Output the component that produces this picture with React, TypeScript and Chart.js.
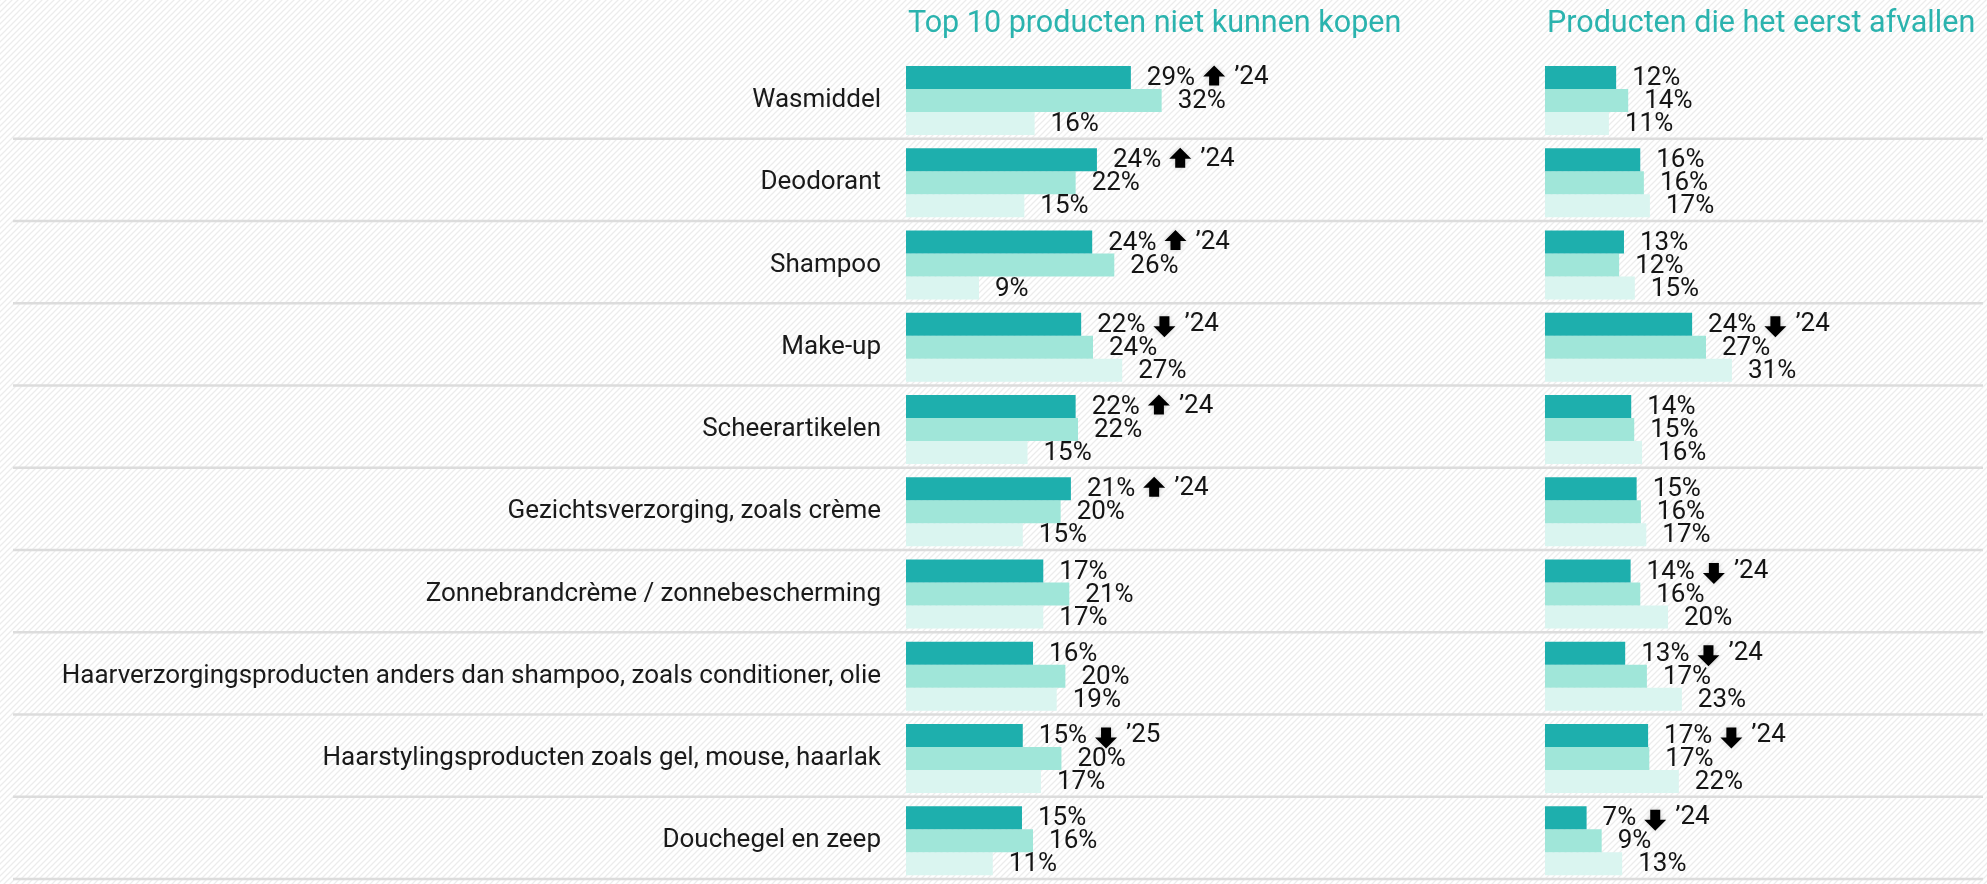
import React, { useEffect, useRef } from 'react';
import { Chart, registerables } from 'chart.js';

Chart.register(...registerables);

const FONT = 'Roboto, "Noto Sans", sans-serif';

const categories = [
  'Wasmiddel',
  'Deodorant',
  'Shampoo',
  'Make-up',
  'Scheerartikelen',
  'Gezichtsverzorging, zoals crème',
  'Zonnebrandcrème / zonnebescherming',
  'Haarverzorgingsproducten anders dan shampoo, zoals conditioner, olie',
  'Haarstylingsproducten zoals gel, mouse, haarlak',
  'Douchegel en zeep',
];

const seriesNames = ['2025', '2024', '2023'];

// Panel 1: Top 10 producten niet kunnen kopen (%)
const leftA = [28.5, 24.2, 23.6, 22.2, 21.5, 20.9, 17.4, 16.1, 14.8, 14.7];
const leftB = [32.4, 21.5, 26.4, 23.7, 21.8, 19.6, 20.7, 20.2, 19.7, 16.1];
const leftC = [16.3, 15.0, 9.25, 27.4, 15.4, 14.8, 17.4, 19.1, 17.1, 11.0];

// Panel 2: Producten die het eerst afvallen (%)
const rightA = [11.8, 15.8, 13.1, 24.4, 14.3, 15.2, 14.2, 13.3, 17.1, 6.9];
const rightB = [13.8, 16.4, 12.3, 26.7, 14.8, 15.9, 15.8, 16.9, 17.3, 9.4];
const rightC = [10.6, 17.4, 14.9, 31.0, 16.1, 16.8, 20.4, 22.7, 22.2, 12.8];

// Trend markers on the first series
const leftTrend = ['up', 'up', 'up', 'down', 'up', 'up', null, null, 'down', null];
const leftTrendLabel = ['’24', '’24', '’24', '’24', '’24', '’24', null, null, '’25', null];
const rightTrend = [null, null, null, 'down', null, null, 'down', 'down', 'down', 'down'];
const rightTrendLabel = [null, null, null, '’24', null, null, '’24', '’24', '’24', '’24'];

const panelTitles = ['Top 10 producten niet kunnen kopen', 'Producten die het eerst afvallen'];

const COLORS = ['#1eafad', '#a0e6d9', '#daf5f0'];
const TEAL_TITLE = '#2bb3ae';

export default function App() {
  const ref = useRef<HTMLCanvasElement>(null);

  useEffect(() => {
    document.body.style.margin = '0';
    const canvas = ref.current!;
    const ctx = canvas.getContext('2d')!;

    const tile = document.createElement('canvas');
    tile.width = 6;
    tile.height = 6;
    const tc = tile.getContext('2d')!;
    tc.fillStyle = '#ffffff';
    tc.fillRect(0, 0, 6, 6);
    tc.strokeStyle = 'rgba(0,0,0,0.075)';
    tc.lineWidth = 1.3;
    tc.beginPath();
    tc.moveTo(0, 6); tc.lineTo(6, 0);
    tc.moveTo(-1, 1); tc.lineTo(1, -1);
    tc.moveTo(5, 7); tc.lineTo(7, 5);
    tc.stroke();
    const pattern = ctx.createPattern(tile, 'repeat');

    const drawArrow = (c: CanvasRenderingContext2D, x0: number, yc: number, dir: string) => {
      c.save();
      c.shadowColor = 'rgba(0,0,0,0.18)';
      c.shadowBlur = 5;
      c.fillStyle = '#000';
      c.beginPath();
      if (dir === 'up') {
        const top = yc - 12;
        c.moveTo(x0 + 11, top);
        c.lineTo(x0 + 22, top + 11);
        c.lineTo(x0 + 16, top + 11);
        c.lineTo(x0 + 16, top + 20);
        c.lineTo(x0 + 6, top + 20);
        c.lineTo(x0 + 6, top + 11);
        c.lineTo(x0, top + 11);
      } else {
        const top = yc - 8;
        c.moveTo(x0 + 6, top);
        c.lineTo(x0 + 16, top);
        c.lineTo(x0 + 16, top + 10);
        c.lineTo(x0 + 22, top + 10);
        c.lineTo(x0 + 11, top + 21);
        c.lineTo(x0, top + 10);
        c.lineTo(x0 + 6, top + 10);
      }
      c.closePath();
      c.fill();
      c.restore();
    };

    const decor = {
      id: 'decor',
      beforeDraw(chart: any) {
        const c = chart.ctx as CanvasRenderingContext2D;
        c.save();
        c.fillStyle = pattern as any;
        c.fillRect(0, 0, chart.width, chart.height);
        const y = chart.scales.y;
        const pitch = y.getPixelForValue(1) - y.getPixelForValue(0);
        c.strokeStyle = '#dcdcdc';
        c.lineWidth = 2.5;
        for (let i = 0; i < categories.length; i++) {
          const yy = y.getPixelForValue(i) + pitch / 2 - 3;
          c.beginPath();
          c.moveTo(13, yy);
          c.lineTo(chart.chartArea.right, yy);
          c.stroke();
        }
        c.restore();
      },
      afterDatasetsDraw(chart: any) {
        const c = chart.ctx as CanvasRenderingContext2D;
        c.save();
        c.font = `400 26px ${FONT}`;
        c.fillStyle = '#151515';
        c.textBaseline = 'middle';
        c.textAlign = 'left';
        chart.data.datasets.forEach((ds: any, di: number) => {
          const meta = chart.getDatasetMeta(di);
          meta.data.forEach((bar: any, i: number) => {
            const txt = `${Math.round(ds.data[i])}%`;
            const tx = bar.x + 16;
            c.fillText(txt, tx, bar.y + 1);
            if (di === 0 || di === 3) {
              const trend = di === 0 ? leftTrend[i] : rightTrend[i];
              const tl = di === 0 ? leftTrendLabel[i] : rightTrendLabel[i];
              if (trend) {
                const w = c.measureText(txt).width;
                const ax = tx + w + 8;
                drawArrow(c, ax, bar.y, trend);
                if (tl) c.fillText(tl, ax + 22 + 9, bar.y);
              }
            }
          });
        });
        // titles
        c.font = `400 30.5px ${FONT}`;
        c.fillStyle = TEAL_TITLE;
        c.textBaseline = 'alphabetic';
        c.fillText(panelTitles[0], chart.scales.xL.getPixelForValue(0) + 2, 32);
        c.fillText(panelTitles[1], chart.scales.xR.getPixelForValue(0) + 2, 32);
        c.restore();
      },
    };

    const mk = (label: string, data: number[], axis: string, stack: string, color: string) => ({
      label,
      data,
      xAxisID: axis,
      stack,
      backgroundColor: color,
      borderWidth: 0,
      barPercentage: 1,
      categoryPercentage: 0.839,
    });

    const chart = new Chart(canvas, {
      type: 'bar',
      data: {
        labels: categories,
        datasets: [
          mk(seriesNames[0], leftA, 'xL', 's0', COLORS[0]),
          mk(seriesNames[1], leftB, 'xL', 's1', COLORS[1]),
          mk(seriesNames[2], leftC, 'xL', 's2', COLORS[2]),
          mk(seriesNames[0], rightA, 'xR', 's0', COLORS[0]),
          mk(seriesNames[1], rightB, 'xR', 's1', COLORS[1]),
          mk(seriesNames[2], rightC, 'xR', 's2', COLORS[2]),
        ],
      },
      options: {
        indexAxis: 'y',
        responsive: false,
        animation: false,
        layout: { padding: { top: 59.37, bottom: 2.03, right: 4, left: 0 } },
        plugins: {
          legend: { display: false },
          tooltip: { enabled: false },
          title: { display: false },
        },
        scales: {
          y: {
            type: 'category',
            position: 'left',
            grid: { display: false, drawTicks: false },
            border: { display: false },
            ticks: {
              font: { family: FONT, size: 26 },
              color: '#1a1a1a',
              padding: 25,
              autoSkip: false,
            },
            afterFit: (s: any) => {
              s.width = 906;
              s.paddingTop = 0;
              s.paddingBottom = 0;
            },
          },
          xL: {
            type: 'linear',
            axis: 'x',
            position: 'bottom',
            display: false,
            stacked: false,
            min: 0,
            max: 136.5,
          },
          xR: {
            type: 'linear',
            axis: 'x',
            position: 'bottom',
            display: false,
            stacked: false,
            min: -105.97,
            max: 72.64,
          },
        },
      } as any,
      plugins: [decor],
    });

    return () => chart.destroy();
  }, []);

  return (
    <div style={{ position: 'absolute', left: 0, top: 0, width: 1987, height: 884 }}>
      <canvas ref={ref} width={1987} height={884} style={{ display: 'block' }} />
    </div>
  );
}
